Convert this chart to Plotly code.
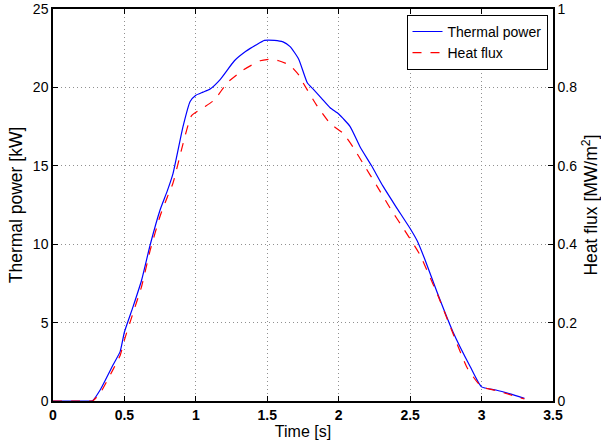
import plotly.graph_objects as go

# Thermal power [kW]
t_power = [0, 0.265, 0.277, 0.33, 0.42, 0.47, 0.50, 0.56, 0.62, 0.68, 0.75, 0.80, 0.84,
           0.91, 0.96, 1.00, 1.05, 1.10, 1.17, 1.27, 1.35, 1.42, 1.48, 1.55, 1.61, 1.66, 1.72,
           1.78, 1.82, 1.88, 1.94, 2.00, 2.08, 2.15, 2.23, 2.31, 2.40, 2.50, 2.55, 2.60, 2.69,
           2.80, 2.92, 3.00, 3.10, 3.20, 3.30]
power = [0, 0, 0.02, 0.7, 2.3, 3.15, 4.4, 6.0, 7.7, 9.95, 12.2, 13.4, 14.5,
         17.5, 19.1, 19.5, 19.7, 19.9, 20.5, 21.7, 22.3, 22.7, 23.0, 23.0, 22.9, 22.6, 21.8,
         20.3, 19.9, 19.3, 18.7, 18.3, 17.5, 16.2, 15.0, 13.7, 12.4, 11.0, 10.2, 9.1, 6.9,
         4.4, 2.2, 0.9, 0.7, 0.45, 0.17]

# Heat flux [MW/m^2]
t_flux = [0, 0.268, 0.28, 0.33, 0.42, 0.47, 0.50, 0.56, 0.62, 0.68, 0.75, 0.80, 0.84,
          0.91, 0.97, 1.05, 1.13, 1.22, 1.33, 1.45, 1.52, 1.58, 1.66, 1.72, 1.75, 1.85,
          1.94, 2.03, 2.10, 2.17, 2.27, 2.36, 2.46, 2.52, 2.57, 2.70, 2.80, 2.90, 3.00, 3.10, 3.20, 3.30]
flux = [0, 0, 0.0008, 0.02, 0.08, 0.116, 0.156, 0.224, 0.292, 0.384, 0.472, 0.52, 0.556,
        0.656, 0.728, 0.748, 0.768, 0.812, 0.844, 0.868, 0.872, 0.868, 0.856, 0.832, 0.812, 0.752,
        0.708, 0.683, 0.648, 0.606, 0.547, 0.492, 0.436, 0.402, 0.372, 0.264, 0.172, 0.084, 0.036, 0.027, 0.016, 0.005]

x_ticks = [0, 0.5, 1, 1.5, 2, 2.5, 3, 3.5]
x_ticktext = ["0", "0.5", "1", "1.5", "2", "2.5", "3", "3.5"]
y_ticks = [0, 5, 10, 15, 20, 25]
y2_ticks = [0, 0.2, 0.4, 0.6, 0.8, 1]
y2_ticktext = ["0", "0.2", "0.4", "0.6", "0.8", "1"]

FONT = "Liberation Sans, Arial, Helvetica, sans-serif"

fig = go.Figure()
fig.add_trace(go.Scatter(x=t_power, y=power, mode="lines", name="Thermal power",
                         line=dict(color="#0000ff", width=1.2, shape="spline", smoothing=0.5)))
fig.add_trace(go.Scatter(x=t_flux, y=flux, mode="lines", name="Heat flux", yaxis="y2",
                         line=dict(color="#ff0000", width=1.2, dash="dash", shape="spline", smoothing=0.5)))

axis_common = dict(showline=True, linecolor="black", linewidth=1.5, ticks="inside",
                   ticklen=5, tickcolor="black", zeroline=False, automargin=False)

fig.update_layout(
    width=601, height=442,
    margin=dict(l=53, r=48, t=9, b=41),
    paper_bgcolor="white", plot_bgcolor="white",
    font=dict(family=FONT, color="black", size=14),
    showlegend=True,
    legend=dict(x=0.989, y=0.985, xanchor="right", yanchor="top",
                bgcolor="white", bordercolor="black", borderwidth=1,
                font=dict(size=14, family=FONT), tracegroupgap=0),
    xaxis=dict(range=[0, 3.5], tickvals=x_ticks, ticktext=x_ticktext,
               tickfont=dict(size=14, weight="bold"), mirror="ticks",
               showgrid=True, gridcolor="#909090", griddash="1px,3px", gridwidth=1,
               title=dict(text="Time [s]", font=dict(size=16), standoff=0),
               **axis_common),
    yaxis=dict(range=[0, 25], tickvals=y_ticks, tickfont=dict(size=14),
               showgrid=True, gridcolor="#909090", griddash="1px,3px", gridwidth=1,
               title=dict(text="Thermal power [kW]", font=dict(size=17.5), standoff=6),
               **axis_common),
    yaxis2=dict(range=[0, 1], tickvals=y2_ticks, ticktext=y2_ticktext, overlaying="y",
                side="right", tickfont=dict(size=14), showgrid=False,
                title=dict(text="Heat flux [MW/m<sup>2</sup>]", font=dict(size=17.5), standoff=10),
                **axis_common),
)

fig.write_html("out.html")
